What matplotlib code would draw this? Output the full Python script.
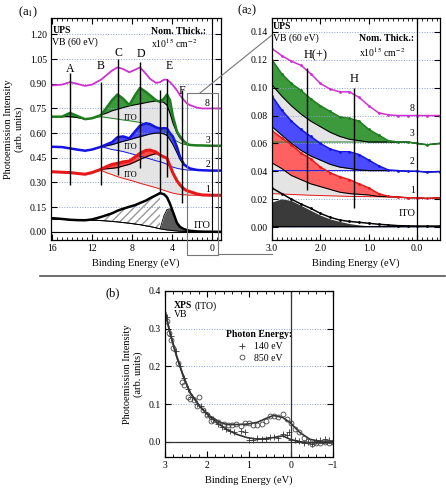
import numpy as np
import matplotlib
matplotlib.use('Agg')
import matplotlib.pyplot as plt
from matplotlib.lines import Line2D
from matplotlib.ticker import MultipleLocator, FormatStrFormatter

plt.rcParams['font.family'] = ['Liberation Serif', 'DejaVu Serif']
plt.rcParams['mathtext.fontset'] = 'stix'
plt.rcParams['font.size'] = 7

# ---------------- (a1) UPS valence band, wide range ----------------
e1 = np.array([16, 15, 14.2, 13.5, 12.7, 12, 11.1, 10.6, 10, 9.45, 8.9, 8.27, 7.7, 7.2, 6.6,
               6.2, 5.6, 5.2, 4.8, 4.5, 4.2, 3.9, 3.5, 3.2, 2.8, 2.5, 2.2, 1.5, 1.0, 0, -0.9])
mag1 = np.array([0.89, 0.895, 0.91, 0.90, 0.887, 0.895, 0.925, 0.95, 0.98, 1.0, 0.99, 0.97, 0.985, 1.0, 0.96,
                 0.93, 0.905, 0.91, 0.925, 0.925, 0.91, 0.89, 0.86, 0.83, 0.80, 0.78, 0.77, 0.755, 0.75, 0.75, 0.75])
grn1 = np.array([0.70, 0.70, 0.723, 0.705, 0.685, 0.69, 0.71, 0.75, 0.80, 0.835, 0.81, 0.77, 0.83, 0.875, 0.85,
                 0.83, 0.80, 0.79, 0.81, 0.835, 0.80, 0.70, 0.61, 0.58, 0.55, 0.535, 0.528, 0.525, 0.525, 0.523, 0.523])
grn1_comp = np.array([0.70, 0.70, 0.70, 0.695, 0.685, 0.69, 0.71, 0.72, 0.735, 0.745, 0.755, 0.765, 0.772, 0.778, 0.785,
                      0.79, 0.795, 0.795, 0.785, 0.77, 0.72, 0.66, 0.60, 0.57, 0.545, 0.532, 0.526, 0.525, 0.525, 0.523, 0.523])
grn1_bg = np.array([0.70, 0.70, 0.70, 0.695, 0.685, 0.69, 0.70, 0.695, 0.69, 0.685, 0.68, 0.675, 0.67, 0.665, 0.655,
                    0.645, 0.635, 0.628, 0.615, 0.60, 0.585, 0.565, 0.55, 0.54, 0.532, 0.528, 0.525, 0.525, 0.525, 0.523, 0.523])
blu1 = np.array([0.517, 0.515, 0.507, 0.50, 0.493, 0.50, 0.517, 0.53, 0.545, 0.575, 0.58, 0.568, 0.61, 0.645, 0.66,
                 0.655, 0.635, 0.628, 0.63, 0.628, 0.60, 0.578, 0.515, 0.456, 0.41, 0.396, 0.385, 0.376, 0.374, 0.372, 0.372])
blu1_comp = np.array([0.517, 0.515, 0.507, 0.50, 0.493, 0.50, 0.517, 0.522, 0.53, 0.54, 0.55, 0.56, 0.57, 0.578, 0.588,
                      0.595, 0.60, 0.60, 0.595, 0.585, 0.56, 0.53, 0.48, 0.44, 0.405, 0.393, 0.383, 0.376, 0.374, 0.372, 0.372])
blu1_bg = np.array([0.517, 0.515, 0.507, 0.50, 0.493, 0.50, 0.517, 0.51, 0.50, 0.495, 0.488, 0.478, 0.468, 0.46, 0.45,
                    0.443, 0.432, 0.426, 0.418, 0.41, 0.40, 0.393, 0.386, 0.382, 0.378, 0.376, 0.375, 0.374, 0.373, 0.372, 0.372])
red1 = np.array([0.365, 0.362, 0.36, 0.355, 0.35, 0.36, 0.38, 0.395, 0.41, 0.416, 0.425, 0.43, 0.455, 0.477, 0.495,
                 0.497, 0.485, 0.467, 0.455, 0.447, 0.40, 0.356, 0.31, 0.285, 0.26, 0.25, 0.244, 0.23, 0.224, 0.222, 0.222])
red1_comp = np.array([0.365, 0.362, 0.36, 0.355, 0.35, 0.36, 0.378, 0.383, 0.386, 0.39, 0.40, 0.41, 0.425, 0.44, 0.455,
                      0.465, 0.475, 0.467, 0.455, 0.445, 0.40, 0.356, 0.31, 0.285, 0.26, 0.25, 0.244, 0.23, 0.224, 0.222, 0.222])
red1_bg = np.array([0.365, 0.362, 0.36, 0.355, 0.35, 0.36, 0.375, 0.36, 0.348, 0.335, 0.325, 0.315, 0.305, 0.295, 0.285,
                    0.278, 0.268, 0.26, 0.252, 0.246, 0.24, 0.235, 0.23, 0.227, 0.225, 0.224, 0.223, 0.222, 0.222, 0.222, 0.222])
ito1 = np.array([0.083, 0.078, 0.073, 0.071, 0.07, 0.075, 0.09, 0.10, 0.112, 0.128, 0.14, 0.152, 0.162, 0.175, 0.19,
                 0.204, 0.222, 0.235, 0.228, 0.21, 0.17, 0.12, 0.053, 0.03, 0.016, 0.01, 0.006, 0.002, 0.001, 0, 0])
ito1_bg = np.array([0.077, 0.075, 0.073, 0.071, 0.07, 0.07, 0.068, 0.066, 0.063, 0.06, 0.056, 0.052, 0.047, 0.043, 0.036,
                    0.032, 0.024, 0.018, 0.014, 0.011, 0.009, 0.007, 0.005, 0.003, 0.002, 0.001, 0, 0, 0, 0, 0])
ito1_peak = np.array([0.077, 0.075, 0.073, 0.071, 0.07, 0.07, 0.068, 0.066, 0.063, 0.06, 0.056, 0.052, 0.047, 0.043, 0.036,
                      0.032, 0.024, 0.018, 0.10, 0.135, 0.14, 0.12, 0.053, 0.03, 0.016, 0.01, 0.006, 0.002, 0.001, 0, 0])

feat_pos = [14.2, 11.1, 9.45, 7.2, 4.5, 3.0]
feat_top = [0.965, 0.91, 1.05, 1.03, 0.93, 0.865]
feat_bot = [0.285, 0.285, 0.345, 0.39, 0.335, 0.175]
feat_lab = ['A', 'B', 'C', 'D', 'E', 'F']
feat_lab_x = [14.2, 11.1, 9.4, 7.1, 4.3, 3.05]
feat_lab_y = [0.99, 1.01, 1.09, 1.08, 1.01, 0.855]

thick_lab = ['8', '3', '2', '1']
thick_y1 = [0.78, 0.557, 0.41, 0.26]

# ---------------- (a2) UPS valence band, gap region ----------------
e2 = np.array([3.0, 2.8, 2.6, 2.4, 2.2, 2.0, 1.8, 1.6, 1.4, 1.2, 1.0, 0.8, 0.6, 0.4, 0.2, 0.0, -0.2, -0.47])
mag2 = np.array([0.128, 0.123, 0.119, 0.116, 0.11, 0.103, 0.099, 0.097, 0.097, 0.093, 0.087, 0.082, 0.0805,
                 0.080, 0.080, 0.080, 0.080, 0.080])
grn2 = np.array([0.12, 0.110, 0.103, 0.098, 0.092, 0.087, 0.083, 0.079, 0.078, 0.076, 0.070, 0.066, 0.062,
                 0.061, 0.061, 0.060, 0.059, 0.060])
grn2_comp = np.array([0.102, 0.094, 0.087, 0.081, 0.076, 0.072, 0.068, 0.065, 0.063, 0.062, 0.061, 0.061, 0.061,
                      0.061, 0.061, 0.060, 0.059, 0.060])
grn2_bg = np.array([0.061, 0.061, 0.061, 0.061, 0.061, 0.061, 0.061, 0.061, 0.061, 0.061, 0.061, 0.061, 0.061,
                    0.061, 0.061, 0.060, 0.059, 0.060])
blu2 = np.array([0.094, 0.084, 0.076, 0.070, 0.065, 0.060, 0.056, 0.054, 0.054, 0.052, 0.048, 0.044, 0.041,
                 0.0405, 0.040, 0.040, 0.0395, 0.0398])
blu2_comp = np.array([0.072, 0.066, 0.060, 0.055, 0.051, 0.048, 0.045, 0.043, 0.042, 0.041, 0.0405, 0.0405, 0.0405,
                      0.0405, 0.040, 0.040, 0.0395, 0.0398])
blu2_bg = np.array([0.0405, 0.0405, 0.0405, 0.0405, 0.0405, 0.0405, 0.0405, 0.0405, 0.0405, 0.0405, 0.0405, 0.0405,
                    0.0405, 0.0405, 0.040, 0.040, 0.0395, 0.0398])
red2 = np.array([0.069, 0.064, 0.059, 0.053, 0.049, 0.043, 0.039, 0.036, 0.034, 0.031, 0.028, 0.024, 0.022,
                 0.0215, 0.021, 0.021, 0.0205, 0.021])
red2_comp = np.array([0.046, 0.042, 0.037, 0.034, 0.031, 0.029, 0.027, 0.025, 0.024, 0.0235, 0.023, 0.022, 0.0218,
                      0.0215, 0.021, 0.021, 0.0205, 0.021])
red2_bg = np.array([0.024, 0.0237, 0.0234, 0.0231, 0.0228, 0.0226, 0.0224, 0.0222, 0.022, 0.0219, 0.0218, 0.0217,
                    0.0216, 0.0215, 0.021, 0.021, 0.0205, 0.021])
ito2 = np.array([0.028, 0.024, 0.020, 0.0165, 0.0134, 0.0098, 0.007, 0.005, 0.004, 0.0034, 0.0027, 0.002, 0.0015,
                 0.001, 0.0008, 0.0007, 0.0007, 0.0007])
ito2_peak = np.array([0.018, 0.0203, 0.019, 0.0155, 0.012, 0.0085, 0.0058, 0.004, 0.0025, 0.0015, 0.0008, 0.0007,
                      0.0007, 0.0007, 0.0007, 0.0007, 0.0007, 0.0007])

h_pos = [2.28, 1.3]
h_top = [0.114, 0.0996]
h_bot = [0.0266, 0.014]
h_lab = ['H(+)', 'H']
h_lab_y = [0.1235, 0.106]
thick_y2 = [0.085, 0.067, 0.047, 0.0265]

# ---------------- (b) XPS valence band of ITO ----------------
eb_fit = np.array([3.0, 2.88, 2.72, 2.56, 2.4, 2.17, 1.93, 1.69, 1.53, 1.29, 1.05, 0.8, 0.6, 0.42, 0.2,
                   0.02, -0.21, -0.45, -0.76, -1.0])
fit_850 = np.array([0.348, 0.288, 0.226, 0.173, 0.13, 0.094, 0.068, 0.052, 0.046, 0.046, 0.047, 0.052, 0.062,
                    0.070, 0.065, 0.051, 0.025, 0.007, 0.0, 0.0])
fit_140 = np.array([0.348, 0.288, 0.226, 0.173, 0.13, 0.094, 0.066, 0.045, 0.033, 0.020, 0.0115, 0.007, 0.009,
                    0.0115, 0.016, 0.007, 0.0, -0.002, -0.003, -0.002])
e_850 = [2.95, 2.9, 2.85, 2.8, 2.7, 2.6, 2.55, 2.45, 2.4, 2.3, 2.25, 2.2, 2.1, 2.0, 1.9, 1.85, 1.75, 1.6, 1.5,
         1.4, 1.3, 1.2, 1.1, 1.0, 0.9, 0.8, 0.7, 0.6, 0.5, 0.4, 0.3, 0.2, 0.1, 0.0, -0.1, -0.2, -0.3, -0.4,
         -0.5, -0.6, -0.7, -0.8, -0.9, -1.0]
i_850 = [0.32, 0.29, 0.27, 0.25, 0.21, 0.16, 0.15, 0.12, 0.115, 0.11, 0.095, 0.118, 0.085, 0.072, 0.055,
         0.057, 0.052, 0.048, 0.044, 0.044, 0.047, 0.041, 0.049, 0.05, 0.046, 0.046, 0.048, 0.055, 0.068, 0.07,
         0.065, 0.073, 0.062, 0.05, 0.035, 0.025, 0.01, 0.003, -0.005, -0.004, -0.003, 0.0, -0.002, 0.0]
e_140 = [2.95, 2.85, 2.75, 2.65, 2.55, 2.45, 2.35, 2.25, 2.15, 2.05, 1.95, 1.85, 1.75, 1.65, 1.55, 1.45, 1.35,
         1.2, 1.1, 1.0, 0.9, 0.8, 0.7, 0.6, 0.5, 0.4, 0.3, 0.2, 0.1, 0.05, 0.0, -0.1, -0.2, -0.3, -0.4, -0.5,
         -0.6, -0.7, -0.8, -0.9, -1.0]
i_140 = [0.33, 0.28, 0.24, 0.2, 0.17, 0.14, 0.12, 0.1, 0.095, 0.08, 0.07, 0.06, 0.048, 0.04, 0.035, 0.03,
         0.025, 0.03, 0.027, 0.005, 0.006, 0.01, 0.008, 0.007, 0.012, 0.013, 0.01, 0.02, 0.018, 0.025, 0.005,
         0.006, 0.002, -0.003, 0.0, -0.006, 0.003, 0.006, 0.008, 0.005, 0.002]

W, H = 446, 488
fig = plt.figure(figsize=(W / 100, H / 100), dpi=100)


def px_axes(l, t, r, b):
    return fig.add_axes([l / W, 1 - b / H, (r - l) / W, (b - t) / H])


def px(x, y):
    return x / W, 1 - y / H


def style(ax):
    ax.tick_params(direction='in', top=True, right=True, which='both', labelsize=7, pad=3)
    ax.tick_params(which='major', length=4)
    ax.tick_params(which='minor', length=2)
    ax.grid(axis='y', color='#8fa0d8', linestyle=':', linewidth=0.7)
    for s in ax.spines.values():
        s.set_linewidth(0.9)


def spectrum(ax, e, data, comp, bg, color, fill, lw):
    ax.fill_between(e, bg, comp, color='#e4e4e4', lw=0)
    ax.fill_between(e, comp, data, where=data >= comp, interpolate=True, color=fill, lw=0)
    ax.plot(e, bg, color=color, lw=0.7)
    ax.plot(e, comp, color='k', lw=0.8)
    ax.plot(e, data, color=color, lw=lw)


# ---- a1 ----
ax1 = px_axes(51, 18, 221, 240)
style(ax1)
spectrum(ax1, e1, grn1, grn1_comp, grn1_bg, '#1e7d1e', '#3c9a3c', 1.8)
spectrum(ax1, e1, blu1, blu1_comp, blu1_bg, '#1414e6', '#4b4bff', 1.8)
spectrum(ax1, e1, red1, red1_comp, red1_bg, '#e81818', '#ff4a4a', 2.2)
ax1.plot(e1, mag1, color='#d030d0', lw=1.3)
hatch_mask = e1 >= 5.2
ax1.fill_between(e1, ito1_bg, ito1, where=hatch_mask, facecolor='white', edgecolor='#999999',
                 hatch='////', lw=0)
ax1.fill_between(e1, ito1_bg, ito1_peak, color='#5a5a5a', lw=0)
ax1.plot(e1, ito1_peak, color='k', lw=0.6)
ax1.plot(e1, ito1_bg, color='k', lw=0.7)
ax1.plot(e1, ito1, color='k', lw=1.8)
ax1.axhline(0, color='k', lw=0.8)
ax1.vlines(feat_pos, feat_bot, feat_top, color='k', lw=1.0)
ax1.vlines([5.2], [0.24], [0.86], color='k', lw=1.0)
ax1.axvline(0, color='k', lw=0.8)
for x, y, t in zip(feat_lab_x, feat_lab_y, feat_lab):
    ax1.text(x, y, t, ha='center', va='center', fontsize=8.5)
for y, t in zip(thick_y1, thick_lab):
    ax1.text(0.45, y, t, ha='center', va='center', fontsize=7)
for y in [0.69, 0.517, 0.345]:
    ax1.text(8.1, y, 'ITO', ha='center', va='center', fontsize=6)
ax1.text(1.0, 0.036, 'ITO', ha='center', va='center', fontsize=7.5)
ax1.text(15.95, 1.225, 'UPS', fontweight='bold', va='center', fontsize=7)
ax1.text(15.95, 1.15, 'VB (60 eV)', va='center', fontsize=7)
ax1.text(6.1, 1.218, 'Nom. Thick.:', fontweight='bold', va='center', fontsize=7)
ax1.text(6.1, 1.145, r'x10$^{15}$ cm$^{-2}$', va='center', fontsize=7)
ax1.set_xlim(16.1, -0.9)
ax1.set_ylim(-0.05, 1.30)
ax1.set_xticks([16, 12, 8, 4, 0])
ax1.xaxis.set_minor_locator(MultipleLocator(0.5))
ax1.set_yticks(np.arange(0, 1.21, 0.15))
ax1.yaxis.set_major_formatter(FormatStrFormatter('%.2f'))
ax1.set_xlabel('Binding Energy (eV)', fontsize=7.5, labelpad=4)
ax1.set_ylabel('Photoemission Intensity\n(arb. units)', fontsize=7.5, labelpad=4)

# ---- a2 ----
ax2 = px_axes(272, 18, 440, 240)
style(ax2)
spectrum(ax2, e2, grn2, grn2_comp, grn2_bg, '#1e7d1e', '#3c9a3c', 1.1)
spectrum(ax2, e2, blu2, blu2_comp, blu2_bg, '#1414e6', '#4b4bff', 1.1)
spectrum(ax2, e2, red2, red2_comp, red2_bg, '#e81818', '#ff6060', 1.1)
ax2.plot(e2, mag2, color='#d030d0', lw=1.1)
ax2.fill_between(e2, 0, ito2_peak, color='#3a3a3a', lw=0)
ax2.plot(e2, ito2, color='k', lw=1.1)
for d, c in [(mag2, '#d030d0'), (grn2, '#1e7d1e'), (blu2, '#1414e6'), (red2, '#e81818'), (ito2, 'k')]:
    ax2.plot(e2, d, ls='none', marker='.', ms=2, color=c)
ax2.axhline(0.0008, color='k', lw=0.8)
ax2.vlines(h_pos, h_bot, h_top, color='k', lw=1.0)
ax2.axvline(0, color='k', lw=0.9)
for x, y, t in zip(h_pos, h_lab_y, h_lab):
    ax2.text(x - 0.18 if t == 'H(+)' else x, y, t, ha='center', va='center', fontsize=9)
for y, t in zip(thick_y2, thick_lab):
    ax2.text(0.1, y, t, ha='center', va='center', fontsize=7)
ax2.text(0.2, 0.0095, 'ITO', ha='center', va='center', fontsize=7.5)
ax2.text(2.98, 0.1438, 'UPS', fontweight='bold', va='center', fontsize=7)
ax2.text(2.98, 0.1357, 'VB (60 eV)', va='center', fontsize=7)
ax2.text(1.21, 0.1355, 'Nom. Thick.:', fontweight='bold', va='center', fontsize=7)
ax2.text(1.21, 0.1256, r'x10$^{15}$ cm$^{-2}$', va='center', fontsize=7)
ax2.set_xlim(3.0, -0.47)
ax2.set_ylim(-0.0093, 0.150)
ax2.set_xticks([3.0, 2.0, 1.0, 0.0])
ax2.xaxis.set_major_formatter(FormatStrFormatter('%.1f'))
ax2.xaxis.set_minor_locator(MultipleLocator(0.1))
ax2.set_yticks(np.arange(0, 0.141, 0.02))
ax2.yaxis.set_major_formatter(FormatStrFormatter('%.2f'))
ax2.set_xlabel('Binding Energy (eV)', fontsize=7.5, labelpad=4)

# ---- b ----
ax3 = px_axes(165, 291, 333, 457)
style(ax3)
ax3.plot(eb_fit, fit_850, color='#333333', lw=1.2)
ax3.plot(eb_fit, fit_140, color='#333333', lw=1.2)
ax3.plot(e_140, i_140, ls='none', marker='+', ms=4, mew=0.6, color='#333333', label='140 eV')
ax3.plot(e_850, i_850, ls='none', marker='o', ms=3.5, mew=0.6, mfc='none', color='#444444',
         label='850 eV')
ax3.axhline(0, color='#333333', lw=0.9)
ax3.axvline(0, color='#333333', lw=0.9)
ax3.text(2.78, 0.361, 'XPS', fontweight='bold', va='center', fontsize=7)
ax3.text(2.30, 0.361, '(ITO)', va='center', fontsize=7)
ax3.text(2.78, 0.338, 'VB', va='center', fontsize=7)
leg = ax3.legend(loc='upper left', bbox_to_anchor=(0.33, 0.8), frameon=False, fontsize=7,
                 title='Photon Energy:', title_fontproperties={'weight': 'bold', 'size': 7},
                 handletextpad=0.6, borderpad=0.1, labelspacing=0.3, handlelength=1.2)
ax3.set_xlim(3, -1)
ax3.set_ylim(-0.04, 0.4)
ax3.set_xticks([3, 2, 1, 0, -1])
ax3.xaxis.set_minor_locator(MultipleLocator(0.2))
ax3.set_yticks([0.0, 0.1, 0.2, 0.3, 0.4])
ax3.yaxis.set_major_formatter(FormatStrFormatter('%.1f'))
ax3.set_xlabel('Binding Energy (eV)', fontsize=7.5, labelpad=4)
ax3.set_ylabel('Photoemission Intensity\n(arb. units)', fontsize=7.5, labelpad=4)

# panel labels, separator and zoom box
fig.text(*px(28, 12), r'(a$_1$)', ha='center', va='center', fontsize=9)
fig.text(*px(247, 10), r'(a$_2$)', ha='center', va='center', fontsize=9)
fig.text(*px(113, 293), '(b)', ha='center', va='center', fontsize=9)
sep = list(zip(px(40, 276), px(445, 276)))
fig.add_artist(Line2D(sep[0], sep[1], color='#555555', lw=1.2))
box = [px(186.7, 93), px(218.3, 93), px(218.3, 255), px(186.7, 255), px(186.7, 93)]
fig.add_artist(Line2D([p[0] for p in box], [p[1] for p in box], color='#777777', lw=0.8))
conn1 = [px(200, 93), px(272, 35)]
fig.add_artist(Line2D([p[0] for p in conn1], [p[1] for p in conn1], color='#777777', lw=0.8))
conn2 = [px(218.3, 254), px(272, 254)]
fig.add_artist(Line2D([p[0] for p in conn2], [p[1] for p in conn2], color='#777777', lw=0.8))

fig.savefig('out.png', dpi=100)
